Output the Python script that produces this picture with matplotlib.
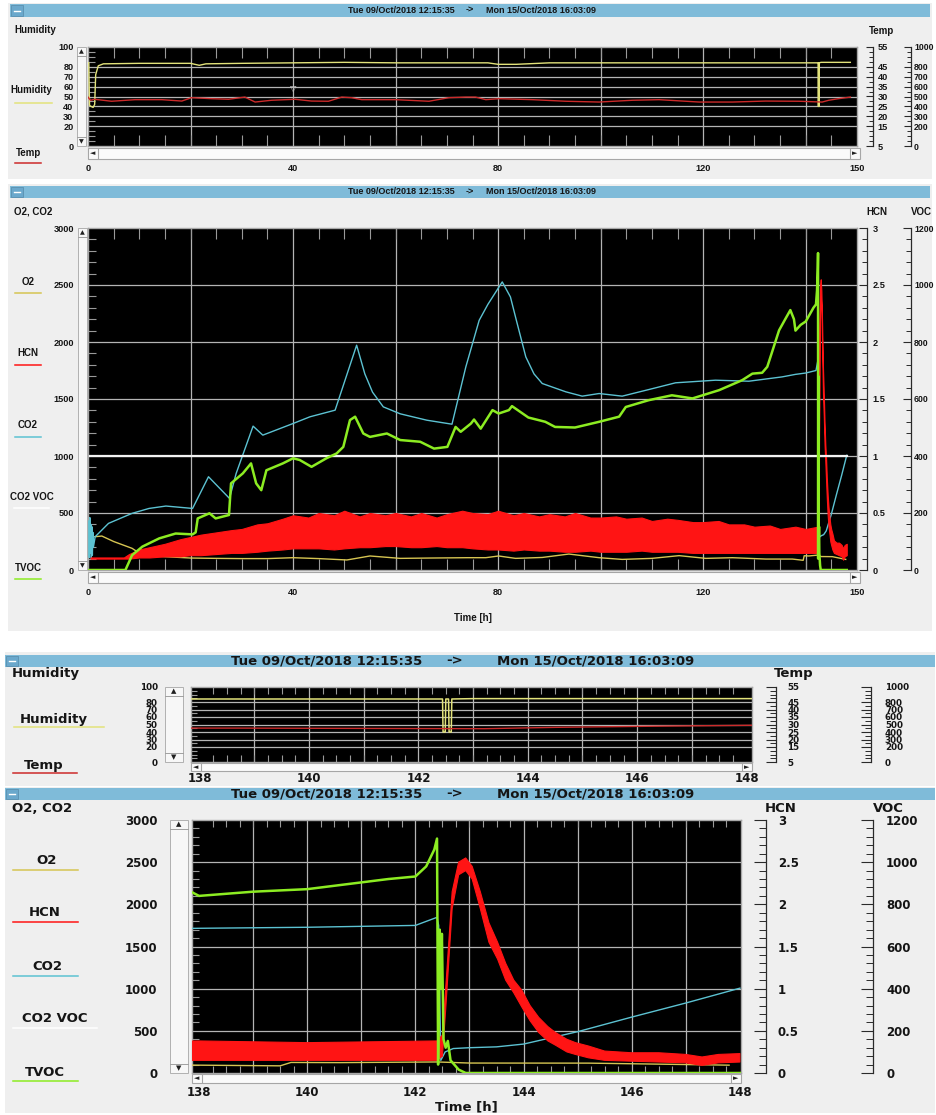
import matplotlib
matplotlib.use('Agg')
import matplotlib.pyplot as plt
from matplotlib.patches import Rectangle
from matplotlib.ticker import MultipleLocator

# ---------------- data ----------------
title_start = 'Tue 09/Oct/2018 12:15:35'
title_end = 'Mon 15/Oct/2018 16:03:09'

# Humidity [%]
hum_t = [0.0, 0.15, 0.3, 0.6, 1.0, 1.3, 1.5, 2.0, 3.0, 10, 20, 21.7, 23, 30, 40, 50, 60, 70,
         78, 80, 83.5, 90, 100, 110, 120, 130, 140, 142.44, 142.45, 142.49, 142.50, 142.55,
         142.56, 142.60, 142.61, 143.0, 145, 148.7]
humidity = [84, 84, 41, 40, 39, 42, 72, 81, 83, 83.5, 83.5, 81.5, 83, 83.5, 84, 84.5, 84, 84,
            84, 82.5, 82.5, 84, 84, 84, 84, 84, 84, 84, 40, 40, 84, 84,
            40, 40, 84, 84.5, 84.5, 84.5]

# Temperature [deg C]
temp_t = [0, 0.5, 1.3, 4.6, 9.2, 14.4, 18.3, 20.2, 24.1, 27.4, 30.6, 32.6, 35.8, 40.4, 43.6,
          46.9, 49.5, 51.4, 53.4, 60, 66.5, 70.4, 73.7, 75.6, 77.6, 80.2, 86.7, 93.2, 99.7,
          106.2, 111.4, 119.2, 125.7, 132.2, 138.7, 143.2, 144.5, 146.4, 148.7]
temp_c = [29.7, 28.1, 28.6, 27.6, 28.4, 28.4, 27.7, 29.4, 28.9, 28.6, 29.7, 27.2, 28.1, 28.6, 27.7,
          27.6, 29.7, 29.4, 28.4, 28.4, 27.6, 29.4, 29.7, 29.7, 28.4, 28.9, 28.4, 27.6, 27.2,
          28.1, 28.4, 27.2, 27.2, 27.7, 27.6, 27.2, 28.1, 28.9, 29.7]

# CO2 [ppm]
co2_t = [0.15, 0.25, 0.35, 0.45, 0.55, 0.65, 0.75, 0.85, 0.95, 1.05,
         1.4, 4, 8.6, 11.9, 15.2, 20.4, 23.5, 27.6, 28.9, 32.2,
         34.1, 40, 43.3, 48.2, 52.4, 54, 55.5, 57.6, 60.9, 66.1,
         71, 73.7, 76.3, 78, 80.8, 82.4, 83.5, 85.4, 87, 88.6,
         93.2, 96.4, 99.7, 104.2, 109.4, 114.6, 122.4, 128.9, 135.4, 138,
         140, 142, 142.4, 142.43, 142.47, 142.55, 142.7, 143, 143.5, 144,
         145, 146, 147, 148]
co2_ppm = [430, 110, 460, 150, 400, 100, 380, 130, 330, 200,
           292, 409, 497, 540, 561, 540, 818, 628, 847, 1262,
           1183, 1285, 1344, 1402, 1972, 1720, 1560, 1431, 1370, 1314,
           1279, 1782, 2190, 2330, 2527, 2395, 2200, 1869, 1720, 1636,
           1563, 1525, 1548, 1525, 1583, 1642, 1665, 1656, 1694, 1716,
           1728, 1750, 1846, 1750, 150, 250, 290, 300, 310, 343,
           490, 663, 830, 1006]

# O2 (on the O2, CO2 scale)
o2_t = [1.4, 2.7, 5, 8.6, 10.6, 15, 20, 25, 30, 35,
        40, 45, 50.5, 55, 60.9, 66.8, 74, 77.6, 80.1, 83.4,
        88.6, 93.8, 99.7, 104.2, 110, 115.3, 120.5, 125.7, 132.2, 137.4,
        139.5, 139.7, 140.6, 142.4, 143, 145.2, 147.8]
o2_val = [292, 298, 250, 190, 131, 117, 105, 102, 100, 100,
          108, 100, 88, 123, 102, 105, 108, 108, 123, 102,
          110, 140, 108, 93, 102, 126, 102, 108, 96, 96,
          85, 125, 123, 131, 118, 117, 93]

# TVOC (VOC scale)
tvoc_t = [0, 7.3, 8.6, 10.6, 13.9, 17.1, 20.4, 21.0, 21.4, 23.7,
          24.9, 27.5, 27.9, 30.2, 31.8, 32.8, 33.8, 34.8, 38, 40,
          41.3, 43.6, 46.5, 48.5, 49.8, 51.1, 52.1, 53.7, 55, 58.3,
          60.9, 64.8, 67.5, 70.1, 71.7, 72.7, 74.7, 75.3, 76.6, 78.9,
          80.1, 82.1, 82.7, 85.9, 89.2, 91.1, 95, 99.7, 103.6, 104.9,
          109.4, 113.9, 117.9, 123.1, 127.6, 129.6, 131.5, 132.5, 134.8, 136,
          137, 137.7, 138, 139, 140, 141, 141.5, 142, 142.2, 142.35,
          142.4, 142.42, 142.45, 142.47, 142.49, 142.52, 142.56, 142.6, 142.65, 142.8,
          142.93, 148]
tvoc_val = [0, 0, 52, 82, 111, 128, 125, 132, 181, 199,
            181, 193, 304, 339, 374, 304, 280, 350, 374, 392,
            386, 362, 392, 409, 432, 526, 538, 479, 467, 479,
            456, 450, 426, 432, 502, 485, 514, 528, 496, 561,
            549, 561, 575, 535, 520, 502, 500, 520, 538, 572,
            596, 613, 602, 631, 666, 689, 692, 713, 841, 880,
            912, 880, 840, 860, 872, 904, 920, 932, 980, 1060,
            1112, 40, 680, 400, 660, 160, 120, 152, 60, 16,
            0, 0]

# CO2 VOC (VOC scale)
co2voc_t = [0.3, 148.0]
co2voc_val = [400, 400]

# HCN band (lower / upper envelope, HCN scale)
hcn_t = [0.5, 4, 7, 8, 10, 12, 15, 18, 20, 22,
         25, 28, 30, 33, 35, 38, 40, 43, 45, 48,
         50, 53, 55, 58, 60, 63, 65, 68, 70, 73,
         75, 78, 80, 83, 85, 88, 90, 93, 95, 98,
         100, 103, 105, 108, 110, 113, 115, 118, 120, 123,
         125, 128, 130, 133, 135, 138, 140, 142.4,
         142.5, 142.56, 142.68, 142.8, 142.93, 143.05, 143.2, 143.36, 143.52, 143.67,
         143.82, 143.97, 144.12, 144.28, 144.45, 144.59, 144.8, 144.96, 145.2, 145.5,
         146, 146.5, 147, 147.3, 147.6, 148]
hcn_low = [0.10, 0.10, 0.10, 0.10, 0.11, 0.11, 0.12, 0.12, 0.13, 0.13,
           0.14, 0.15, 0.15, 0.16, 0.17, 0.18, 0.19, 0.19, 0.19, 0.18,
           0.19, 0.20, 0.20, 0.21, 0.21, 0.20, 0.20, 0.21, 0.20, 0.20,
           0.19, 0.18, 0.18, 0.17, 0.18, 0.17, 0.17, 0.16, 0.16, 0.17,
           0.16, 0.16, 0.16, 0.17, 0.16, 0.16, 0.16, 0.15, 0.15, 0.15,
           0.15, 0.15, 0.15, 0.15, 0.15, 0.15, 0.15, 0.15,
           0.20, 0.75, 1.95, 2.35, 2.40, 2.30, 1.95, 1.55, 1.35, 1.10,
           0.95, 0.78, 0.62, 0.48, 0.38, 0.33, 0.25, 0.22, 0.18, 0.15,
           0.14, 0.13, 0.12, 0.09, 0.12, 0.13]
hcn_high = [0.11, 0.11, 0.11, 0.14, 0.18, 0.20, 0.23, 0.27, 0.29, 0.31,
            0.33, 0.35, 0.36, 0.40, 0.41, 0.45, 0.48, 0.46, 0.50, 0.48,
            0.52, 0.47, 0.50, 0.48, 0.50, 0.47, 0.50, 0.46, 0.49, 0.52,
            0.50, 0.49, 0.52, 0.48, 0.50, 0.47, 0.49, 0.47, 0.50, 0.46,
            0.46, 0.47, 0.45, 0.46, 0.43, 0.45, 0.44, 0.42, 0.42, 0.43,
            0.40, 0.40, 0.38, 0.39, 0.36, 0.38, 0.36, 0.38,
            0.45, 1.00, 2.15, 2.50, 2.55, 2.45, 2.15, 1.78, 1.55, 1.30,
            1.10, 0.98, 0.80, 0.66, 0.55, 0.48, 0.40, 0.36, 0.32, 0.26,
            0.24, 0.24, 0.22, 0.19, 0.22, 0.23]

# axis labels / ticks
full_xticks = [0, 40, 80, 120, 150]
zoom_xticks = [138, 140, 142, 144, 146, 148]
hum_yticks = [0, 20, 30, 40, 50, 60, 70, 80, 100]
temp_yticks = [5, 15, 20, 25, 30, 35, 40, 45, 55]
aux_yticks = [0, 200, 300, 400, 500, 600, 700, 800, 1000]
gas_yticks = [0, 500, 1000, 1500, 2000, 2500, 3000]
hcn_yticks = [0, 0.5, 1, 1.5, 2, 2.5, 3]
voc_yticks = [0, 200, 400, 600, 800, 1000, 1200]

# ---------------- styling ----------------
W, H, DPI = 936, 1115, 100
TOPF = ['Liberation Sans', 'DejaVu Sans']
BOTF = ['DejaVu Sans']
SYM = ['DejaVu Sans']
PANEL_BG = '#efefef'
BAR = '#7fbbd9'
GRID = '#b4b4b4'
C_HUM = '#e2e27a'
C_TEMP = '#cc2a2a'
C_CO2 = '#5cc2d2'
C_O2 = '#d6c552'
C_HCN = '#ff1414'
C_TVOC = '#8cec22'
C_VOC = '#f2f2f2'
TXT = '#151515'

fig = plt.figure(figsize=(W / DPI, H / DPI), dpi=DPI)
fig.patch.set_facecolor('white')
bg = fig.add_axes([0, 0, 1, 1])
bg.set_xlim(0, W)
bg.set_ylim(H, 0)
bg.axis('off')


def rect(x0, y0, x1, y1, fc, ec='none', lw=0.0, z=1):
    bg.add_patch(Rectangle((x0, y0), x1 - x0, y1 - y0, facecolor=fc, edgecolor=ec,
                           linewidth=lw, zorder=z))


def px_axes(x0, y0, x1, y1):
    return fig.add_axes([x0 / W, 1 - y1 / H, (x1 - x0) / W, (y1 - y0) / H])


def title_bar(x0, y0, x1, y1, font, fs, tue_right, arrow_x, mon_left):
    rect(x0, y0, x1, y1, BAR, z=2)
    rect(x0 + 1, y0 + 1, x0 + 13, y1 - 1, '#6aa8cc', ec='#5a90b0', lw=0.6, z=3)
    bg.plot([x0 + 4, x0 + 10], [(y0 + y1) / 2] * 2, color='white', lw=1.0, zorder=4)
    yc = (y0 + y1) / 2
    bg.text(tue_right, yc, title_start, ha='right', va='center', family=font,
            weight='bold', fontsize=fs, color=TXT, zorder=5)
    bg.text(arrow_x, yc, '->', ha='center', va='center', family=font,
            weight='bold', fontsize=fs, color=TXT, zorder=5)
    bg.text(mon_left, yc, title_end, ha='left', va='center', family=font,
            weight='bold', fontsize=fs, color=TXT, zorder=5)


def hscroll(x0, x1, y0, y1, fs):
    rect(x0, y0, x1, y1, '#fafafa', ec='#a6a6a6', lw=0.8, z=2)
    yc = (y0 + y1) / 2
    bg.plot([x0 + 10, x0 + 10], [y0 + 1, y1 - 1], color='#a6a6a6', lw=0.8, zorder=3)
    bg.plot([x1 - 10, x1 - 10], [y0 + 1, y1 - 1], color='#a6a6a6', lw=0.8, zorder=3)
    bg.text(x0 + 5, yc, '\u25c4', ha='center', va='center', family=SYM, fontsize=fs,
            color='#202020', zorder=4)
    bg.text(x1 - 5, yc, '\u25ba', ha='center', va='center', family=SYM, fontsize=fs,
            color='#202020', zorder=4)


def vscroll(x0, x1, y0, y1, fs):
    rect(x0, y0, x1, y1, '#f7f7f7', ec='#b0b0b0', lw=0.7, z=2)
    xc = (x0 + x1) / 2
    bg.plot([x0, x1], [y0 + 9, y0 + 9], color='#a0a0a0', lw=0.7, zorder=3)
    bg.plot([x0, x1], [y1 - 9, y1 - 9], color='#a0a0a0', lw=0.7, zorder=3)
    bg.text(xc, y0 + 4.5, '\u25b2', ha='center', va='center', family=SYM, fontsize=fs,
            color='#202020', zorder=4)
    bg.text(xc, y1 - 4.5, '\u25bc', ha='center', va='center', family=SYM, fontsize=fs,
            color='#202020', zorder=4)


def legend_item(x, y, text, color, x0, x1, uy, font, fs):
    bg.text(x, y, text, ha='center', va='center', family=font, weight='bold',
            fontsize=fs, color=TXT, zorder=5)
    bg.plot([x0, x1], [uy, uy], color=color, lw=1.1, zorder=5)


def style_plot(ax, xlim, ylim, vgrid, hgrid, xticks, yticks, ylabels, xminor, yminor,
               font, fsx, fsy, xpad, ypad, xlen, ylen):
    ax.set_facecolor('black')
    ax.set_xlim(*xlim)
    ax.set_ylim(*ylim)
    for s in ax.spines.values():
        s.set_color('#a8a8a8')
        s.set_linewidth(1.0)
    for v in vgrid:
        ax.axvline(v, color=GRID, lw=0.9, zorder=1)
    for h in hgrid:
        ax.axhline(h, color=GRID, lw=0.9, zorder=1)
    ax.set_xticks(xticks)
    ax.set_xticklabels([str(v) for v in xticks], family=font, weight='bold', fontsize=fsx,
                       color=TXT)
    ax.set_yticks(yticks)
    ax.set_yticklabels(ylabels, family=font, weight='bold', fontsize=fsy, color=TXT)
    ax.xaxis.set_minor_locator(MultipleLocator(xminor))
    ax.yaxis.set_minor_locator(MultipleLocator(yminor))
    ax.tick_params(which='major', length=0)
    ax.tick_params(axis='x', which='major', pad=xpad)
    ax.tick_params(axis='y', which='major', pad=ypad)
    ax.tick_params(axis='x', which='minor', direction='in', top=True, bottom=True,
                   length=xlen, width=0.8, color='#9a9a9a')
    ax.tick_params(axis='y', which='minor', direction='in', left=True, right=False,
                   length=ylen, width=0.8, color='#9a9a9a')


def right_axis(ax, frac, ylim, ticks, labels, minor, font, fs, pad, maj, mnr):
    t = ax.twinx()
    t.set_ylim(*ylim)
    for nm in ('left', 'top', 'bottom'):
        t.spines[nm].set_visible(False)
    t.spines['right'].set_position(('axes', frac))
    t.spines['right'].set_color('#2a2a2a')
    t.spines['right'].set_linewidth(0.9)
    t.set_yticks(ticks)
    t.set_yticklabels(labels, family=font, weight='bold', fontsize=fs, color=TXT)
    t.yaxis.set_minor_locator(MultipleLocator(minor))
    t.tick_params(axis='y', which='major', direction='in', length=maj, width=0.8,
                  color='#2a2a2a', pad=pad)
    t.tick_params(axis='y', which='minor', direction='in', length=mnr, width=0.7,
                  color='#2a2a2a')
    return t


# ---------------- section backgrounds ----------------
rect(8, 3, 932, 179, PANEL_BG)
rect(8, 184, 932, 631, PANEL_BG)
rect(5, 652, 935, 786, PANEL_BG)
rect(5, 787, 935, 1113, PANEL_BG)

title_bar(10, 4, 930, 17, TOPF, 6.5, 455, 470, 486)
title_bar(10, 186, 930, 198, TOPF, 6.5, 455, 470, 486)
title_bar(5, 655, 935, 667, BOTF, 9.5, 422, 455, 497)
title_bar(5, 788, 935, 800, BOTF, 9.5, 422, 455, 497)

# ---------------- panel 1 : humidity / temperature (full run) ----------------
ax1 = px_axes(88, 47, 857, 146)
style_plot(ax1, (0, 150), (0, 100), [20, 40, 60, 80, 100, 120, 140],
           [20, 30, 40, 50, 60, 70, 80], full_xticks, hum_yticks,
           [str(v) for v in hum_yticks], 5, 5, TOPF, 6.6, 6.6, 13, 10.5, 8, 5)
ax1.plot(hum_t, humidity, color=C_HUM, lw=1.0, zorder=3)
ax1.text(40, 58, '\u25bd', ha='center', va='center', family=SYM, fontsize=6,
         color='#c8c8c8', zorder=4)
t1 = right_axis(ax1, (873 - 88) / 769, (5, 55), temp_yticks, [str(v) for v in temp_yticks],
                2.5, TOPF, 6.6, 3.5, 5, 3)
t1.plot(temp_t, temp_c, color=C_TEMP, lw=1.0, zorder=3)
right_axis(ax1, (911 - 88) / 769, (0, 1000), aux_yticks, [str(v) for v in aux_yticks],
           50, TOPF, 6.3, 2.2, 5, 3)
hscroll(88, 860, 148, 159, 5)
vscroll(77, 86, 47, 146, 4.5)
bg.text(14, 30, 'Humidity', ha='left', va='center', family=TOPF, weight='bold',
        fontsize=7, color=TXT, zorder=5)
bg.text(869, 31, 'Temp', ha='left', va='center', family=TOPF, weight='bold',
        fontsize=7, color=TXT, zorder=5)
legend_item(31, 90, 'Humidity', C_HUM, 15, 52, 103, TOPF, 7)
legend_item(28, 153, 'Temp', C_TEMP, 15, 41, 163, TOPF, 7)

# ---------------- panel 2 : gases (full run) ----------------
ax2 = px_axes(88, 228, 857, 570)
style_plot(ax2, (0, 150), (0, 3000), [20, 40, 60, 80, 100, 120, 140],
           [500, 1000, 1500, 2000, 2500], full_xticks, gas_yticks,
           [str(v) for v in gas_yticks], 5, 100, TOPF, 6.6, 6.6, 13, 10, 8, 6)
ax2.plot(o2_t, o2_val, color=C_O2, lw=1.0, zorder=3)
ax2.plot(co2_t, co2_ppm, color=C_CO2, lw=1.0, zorder=3)
h2 = right_axis(ax2, (867 - 88) / 769, (0, 3), hcn_yticks, [f'{v:g}' for v in hcn_yticks],
                0.1, TOPF, 6.6, 4.0, 6, 3.5)
h2.fill_between(hcn_t, hcn_low, hcn_high, color=C_HCN, lw=0.8, zorder=3)
v2 = right_axis(ax2, (911 - 88) / 769, (0, 1200), voc_yticks, [str(v) for v in voc_yticks],
                40, TOPF, 6.3, 2.2, 6, 3.5)
v2.plot(co2voc_t, co2voc_val, color=C_VOC, lw=1.6, zorder=3)
v2.plot(tvoc_t, tvoc_val, color=C_TVOC, lw=1.8, zorder=4)
hscroll(88, 860, 572, 583, 5)
vscroll(78, 87, 228, 570, 4.5)
bg.text(473, 618, 'Time [h]', ha='center', va='center', family=TOPF, weight='bold',
        fontsize=7, color=TXT, zorder=5)
bg.text(14, 212, 'O2, CO2', ha='left', va='center', family=TOPF, weight='bold',
        fontsize=7, color=TXT, zorder=5)
bg.text(866, 212, 'HCN', ha='left', va='center', family=TOPF, weight='bold',
        fontsize=7, color=TXT, zorder=5)
bg.text(911, 212, 'VOC', ha='left', va='center', family=TOPF, weight='bold',
        fontsize=7, color=TXT, zorder=5)
legend_item(28, 282, 'O2', C_O2, 15, 41, 293, TOPF, 7)
legend_item(28, 353, 'HCN', C_HCN, 15, 41, 365, TOPF, 7)
legend_item(28, 425, 'CO2', C_CO2, 15, 41, 437, TOPF, 7)
legend_item(32, 497, 'CO2 VOC', '#ffffff', 14, 49, 508, TOPF, 7)
legend_item(28, 568, 'TVOC', C_TVOC, 15, 41, 579, TOPF, 7)

# ---------------- panel 3 : humidity / temperature (zoom) ----------------
ax3 = px_axes(191, 687, 752, 762)
style_plot(ax3, (137.84, 148.1), (0, 100), list(range(139, 148)),
           [20, 30, 40, 50, 60, 70, 80], zoom_xticks, hum_yticks,
           [str(v) for v in hum_yticks], 0.25, 5, BOTF, 8.5, 6.3, 7, 24, 5, 4)
ax3.plot(hum_t, humidity, color=C_HUM, lw=1.1, zorder=3)
t3 = right_axis(ax3, (776 - 191) / 561, (5, 55), temp_yticks, [str(v) for v in temp_yticks],
                2.5, BOTF, 6.3, 8.0, 7, 4)
t3.plot(temp_t, temp_c, color=C_TEMP, lw=1.0, zorder=3)
right_axis(ax3, (871 - 191) / 561, (0, 1000), aux_yticks, [str(v) for v in aux_yticks],
           50, BOTF, 6.3, 10.0, 7, 4)
hscroll(191, 752, 763, 771, 5)
vscroll(165, 183, 687, 762, 5)
bg.text(12, 674, 'Humidity', ha='left', va='center', family=BOTF, weight='bold',
        fontsize=9.5, color=TXT, zorder=5)
bg.text(794, 673, 'Temp', ha='center', va='center', family=BOTF, weight='bold',
        fontsize=9.5, color=TXT, zorder=5)
legend_item(54, 719, 'Humidity', C_HUM, 14, 104, 727, BOTF, 9.5)
legend_item(44, 765, 'Temp', C_TEMP, 13, 77, 773, BOTF, 9.5)

# ---------------- panel 4 : gases (zoom) ----------------
ax4 = px_axes(192, 820, 741, 1073)
style_plot(ax4, (137.87, 148.02), (0, 3000), list(range(139, 148)),
           [500, 1000, 1500, 2000, 2500], zoom_xticks, gas_yticks,
           [str(v) for v in gas_yticks], 0.25, 100, BOTF, 8.5, 8.5, 9, 25, 5, 5)
ax4.plot(o2_t, o2_val, color=C_O2, lw=1.0, zorder=3)
ax4.plot(co2_t, co2_ppm, color=C_CO2, lw=1.0, zorder=3)
h4 = right_axis(ax4, (766 - 192) / 549, (0, 3), hcn_yticks, [f'{v:g}' for v in hcn_yticks],
                0.1, BOTF, 8.5, 8.5, 9, 5)
h4.fill_between(hcn_t, hcn_low, hcn_high, color=C_HCN, lw=0.8, zorder=3)
v4 = right_axis(ax4, (873 - 192) / 549, (0, 1200), voc_yticks, [str(v) for v in voc_yticks],
                40, BOTF, 8.5, 9.4, 9, 5)
v4.plot(tvoc_t, tvoc_val, color=C_TVOC, lw=1.8, zorder=4)
hscroll(192, 741, 1074, 1083, 5)
vscroll(170, 188, 820, 1073, 5)
bg.text(466, 1107, 'Time [h]', ha='center', va='center', family=BOTF, weight='bold',
        fontsize=9.5, color=TXT, zorder=5)
bg.text(12, 808, 'O2, CO2', ha='left', va='center', family=BOTF, weight='bold',
        fontsize=9.5, color=TXT, zorder=5)
bg.text(781, 808, 'HCN', ha='center', va='center', family=BOTF, weight='bold',
        fontsize=9.5, color=TXT, zorder=5)
bg.text(888, 808, 'VOC', ha='center', va='center', family=BOTF, weight='bold',
        fontsize=9.5, color=TXT, zorder=5)
legend_item(47, 860, 'O2', C_O2, 13, 78, 870, BOTF, 9.5)
legend_item(45, 913, 'HCN', C_HCN, 13, 78, 922, BOTF, 9.5)
legend_item(47, 966, 'CO2', C_CO2, 13, 78, 976, BOTF, 9.5)
legend_item(55, 1019, 'CO2 VOC', '#ffffff', 13, 97, 1028, BOTF, 9.5)
legend_item(45, 1072, 'TVOC', C_TVOC, 13, 78, 1081, BOTF, 9.5)

fig.savefig('out.png', dpi=DPI, facecolor='white')
